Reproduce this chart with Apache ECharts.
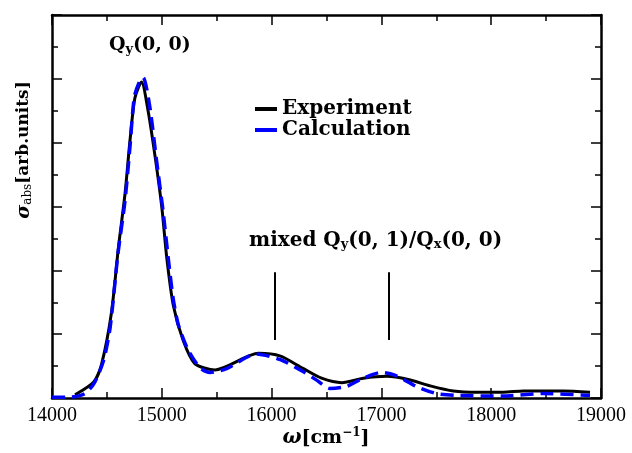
<!DOCTYPE html>
<html>
<head>
<meta charset="utf-8">
<script src="https://cdn.jsdelivr.net/npm/echarts@6/dist/echarts.min.js"></script>
<style>
  html, body { margin: 0; padding: 0; background: #fff; }
  #chart { width: 632px; height: 453px; }
</style>
</head>
<body>
<div id="chart"></div>
<script>
// measured spectrum (black)
var expX = [14210, 14380, 14450, 14540, 14605, 14665, 14710, 14755, 14815, 14875, 14940, 15000, 15045, 15105, 15195, 15300, 15485, 15880, 16075, 16290, 16455, 16640, 16835, 17050, 17245, 17445, 17655, 17870, 18110, 18295, 18655, 18900];
var expY = [0.05, 0.25, 0.52, 1.32, 2.36, 3.2, 4.03, 4.7, 4.95, 4.5, 3.77, 2.99, 2.2, 1.45, 0.9, 0.54, 0.44, 0.70, 0.66, 0.46, 0.31, 0.24, 0.31, 0.34, 0.29, 0.19, 0.11, 0.09, 0.09, 0.11, 0.11, 0.09];

// calculated spectrum (blue dashed)
var calcX = [14000, 14150, 14300, 14390, 14470, 14530, 14600, 14665, 14710, 14750, 14800, 14830, 14890, 14950, 15010, 15055, 15100, 15150, 15240, 15350, 15440, 15590, 15860, 16080, 16290, 16410, 16530, 16680, 16835, 17000, 17120, 17320, 17500, 17690, 18100, 18480, 18900];
var calcY = [0.01, 0.01, 0.07, 0.25, 0.59, 1.11, 2.25, 3.09, 3.93, 4.72, 4.97, 5.02, 4.57, 3.75, 2.95, 2.25, 1.6, 1.15, 0.75, 0.47, 0.40, 0.46, 0.69, 0.60, 0.41, 0.28, 0.15, 0.18, 0.31, 0.40, 0.36, 0.18, 0.07, 0.04, 0.03, 0.07, 0.04];

// vertical markers
var markerX = [16030, 17070];
var markerLow = 0.91;
var markerHigh = 1.97;

var xTicks = [14000, 15000, 16000, 17000, 18000, 19000];

function pairs(xs, ys) {
    var out = [];
    for (var i = 0; i < xs.length; i++) out.push([xs[i], ys[i]]);
    return out;
}

var serifB = 'DejaVu Serif';
var chart = echarts.init(document.getElementById('chart'));

var frameX = {
    type: 'value', min: xTicks[0], max: xTicks[xTicks.length - 1], interval: 1000,
    axisLine: { show: true, onZero: false, lineStyle: { color: '#000', width: 2.5 } },
    axisTick: { show: true, inside: true, length: 10, lineStyle: { color: '#000', width: 1.5 } },
    minorTick: { show: true, splitNumber: 2, length: 6, lineStyle: { color: '#000', width: 1.5 } },
    splitLine: { show: false }
};
var frameY = {
    type: 'value', min: 0, max: 6, interval: 1,
    axisLine: { show: true, onZero: false, lineStyle: { color: '#000', width: 2.5 } },
    axisTick: { show: true, inside: true, length: 10, lineStyle: { color: '#000', width: 1.5 } },
    minorTick: { show: true, splitNumber: 2, length: 6, lineStyle: { color: '#000', width: 1.5 } },
    axisLabel: { show: false },
    splitLine: { show: false }
};

var markLines = [];
markerX.forEach(function (x) {
    markLines.push([{ coord: [x, markerLow] }, { coord: [x, markerHigh] }]);
});

var subStyle = { fontSize: 13, fontWeight: 'bold', fontFamily: serifB, verticalAlign: 'bottom', padding: [8, 0, 0, 0] };

option = {
    animation: false,
    backgroundColor: '#fff',
    grid: { left: 52, right: 31, top: 15, bottom: 55 },
    xAxis: [
        Object.assign({}, frameX, {
            position: 'bottom',
            axisLabel: {
                show: true, margin: 8, fontFamily: 'Liberation Serif', fontSize: 20, color: '#000',
                formatter: function (v) { return String(v); }
            }
        }),
        Object.assign({}, frameX, { position: 'top', axisLabel: { show: false } })
    ],
    yAxis: [
        Object.assign({}, frameY, { position: 'left' }),
        Object.assign({}, frameY, { position: 'right' })
    ],
    legend: {
        orient: 'vertical',
        left: 250,
        top: 94,
        itemGap: 1,
        itemWidth: 22,
        itemHeight: 4,
        icon: 'rect',
        textStyle: { fontFamily: serifB, fontWeight: 'bold', fontSize: 20, color: '#000' },
        data: ['Experiment', 'Calculation']
    },
    series: [
        {
            name: 'Experiment',
            type: 'line',
            smooth: 0.25,
            showSymbol: false,
            data: pairs(expX, expY),
            itemStyle: { color: '#000' },
            lineStyle: { color: '#000', width: 3 },
            markLine: {
                silent: true,
                symbol: 'none',
                label: { show: false },
                lineStyle: { color: '#000', width: 2, type: 'solid' },
                data: markLines
            }
        },
        {
            name: 'Calculation',
            type: 'line',
            smooth: 0.25,
            showSymbol: false,
            data: pairs(calcX, calcY),
            itemStyle: { color: '#0000ff' },
            lineStyle: { color: '#0000ff', width: 3.5, type: [13, 7] }
        }
    ],
    graphic: [
        {
            type: 'text', left: 109, top: 36,
            style: {
                text: 'Q{sub|y}(0, 0)',
                font: 'bold 19px "DejaVu Serif"', fill: '#000',
                rich: { sub: subStyle }
            }
        },
        {
            type: 'text', left: 249, top: 231,
            style: {
                text: 'mixed Q{sub|y}(0, 1)/Q{sub|x}(0, 0)',
                font: 'bold 20px "DejaVu Serif"', fill: '#000',
                rich: { sub: subStyle }
            }
        },
        {
            type: 'text', x: 326, y: 438,
            style: {
                text: '{w|ω}[cm{sup|−1}]',
                font: 'bold 19px "DejaVu Serif"', fill: '#000', align: 'center', verticalAlign: 'middle',
                rich: {
                    w: { fontSize: 20, fontStyle: 'italic', fontWeight: 'bold', fontFamily: serifB },
                    sup: { fontSize: 12, fontWeight: 'bold', fontFamily: serifB, verticalAlign: 'top', padding: [0, 0, 10, 0] }
                }
            }
        },
        {
            type: 'text', x: 24, y: 150, rotation: Math.PI / 2,
            style: {
                text: '{s|σ}{sub|abs}[arb.units]',
                font: 'bold 17px "DejaVu Serif"', fill: '#000', align: 'center', verticalAlign: 'middle',
                rich: {
                    s: { fontSize: 19, fontStyle: 'italic', fontWeight: 'bold', fontFamily: serifB },
                    sub: { fontSize: 12, fontFamily: serifB, verticalAlign: 'bottom', padding: [8, 0, 0, 0] }
                }
            }
        }
    ]
};

chart.setOption(option);
</script>
</body>
</html>
